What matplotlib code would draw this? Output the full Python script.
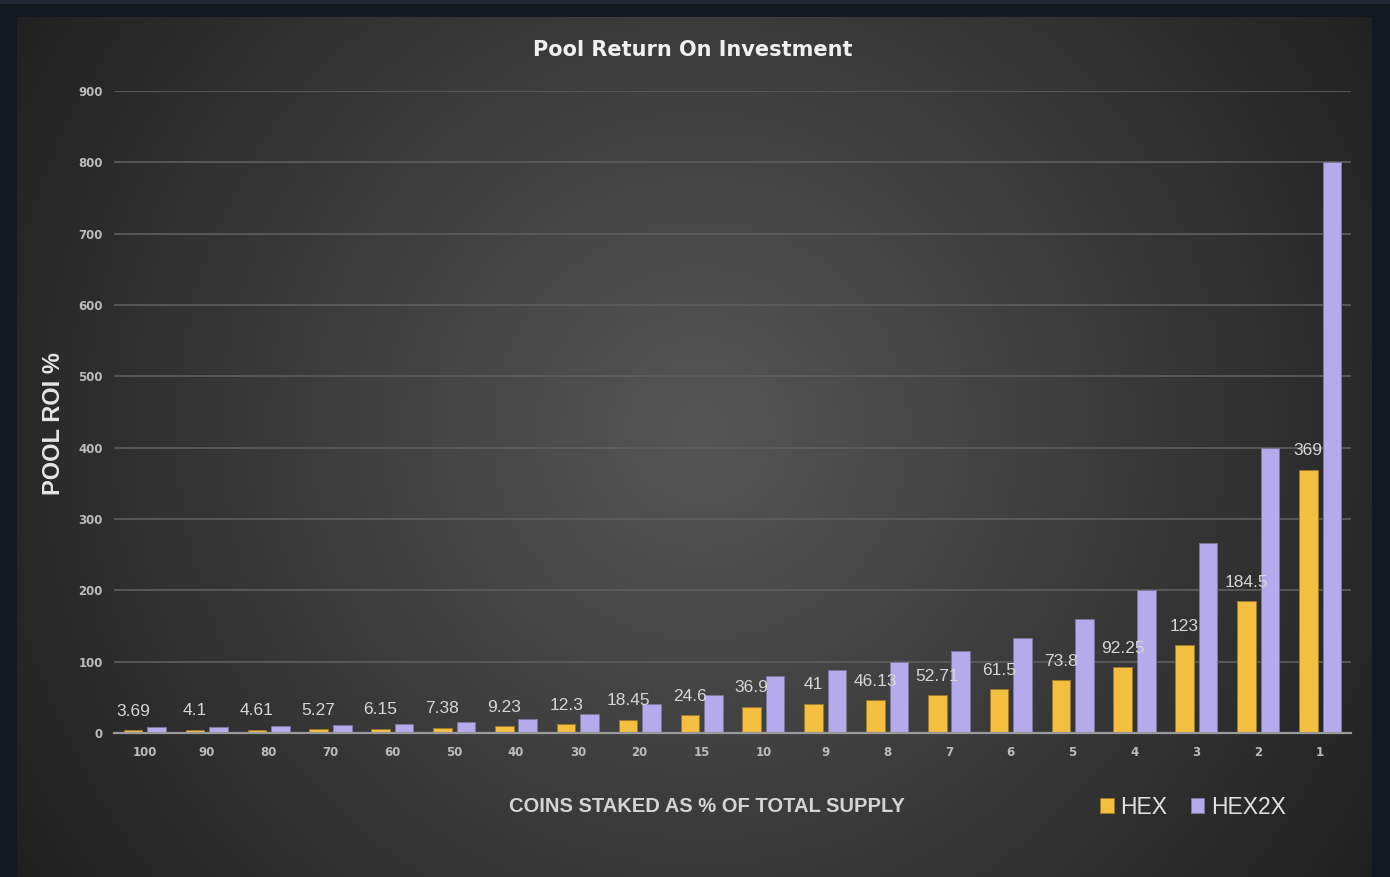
import matplotlib
matplotlib.use('Agg')
import matplotlib.pyplot as plt
import numpy as np
from matplotlib.patches import Rectangle

# data
categories = ['100', '90', '80', '70', '60', '50', '40', '30', '20', '15',
              '10', '9', '8', '7', '6', '5', '4', '3', '2', '1']
hex_roi = [3.69, 4.1, 4.61, 5.27, 6.15, 7.38, 9.23, 12.3, 18.45, 24.6,
           36.9, 41, 46.13, 52.71, 61.5, 73.8, 92.25, 123, 184.5, 369]
hex_labels = ['3.69', '4.1', '4.61', '5.27', '6.15', '7.38', '9.23', '12.3', '18.45', '24.6',
              '36.9', '41', '46.13', '52.71', '61.5', '73.8', '92.25', '123', '184.5', '369']
hex2x_roi = [8, 8.9, 10, 11.4, 13.3, 16, 20, 26.7, 40, 53.3,
             80, 88.9, 100, 114.3, 133.3, 160, 200, 266.7, 400, 800]
y_ticks = [0, 100, 200, 300, 400, 500, 600, 700, 800, 900]

font = 'Liberation Sans'
yellow = '#f4be41'
lavender = '#b5aaec'
W, H = 1390, 877

fig = plt.figure(figsize=(W / 100, H / 100), dpi=100, facecolor='#131821')

# top strip of the frame
fig.patches.append(Rectangle((0, 1 - 4 / H), 1, 4 / H, transform=fig.transFigure,
                             facecolor='#222836', edgecolor='none', zorder=0))

# radial gradient background of the chart area
bx0, bx1, by0, by1 = 17, 1372, 17, 877
bg = fig.add_axes([bx0 / W, 1 - by1 / H, (bx1 - bx0) / W, (by1 - by0) / H], zorder=0)
yy, xx = np.mgrid[by0:by1, bx0:bx1]
d = np.sqrt((xx - 700) ** 2 + (yy - 430) ** 2) / 780
v = np.clip(86 - 52 * d, 28, 90) / 255
bg.imshow(np.dstack([v, v, v]), aspect='auto', extent=(0, 1, 0, 1), origin='upper')
bg.axis('off')

# main plot area
ax = fig.add_axes([114 / W, 1 - 733 / H, (1351 - 114) / W, (733 - 91) / H], zorder=1)
ax.patch.set_visible(False)

x = np.arange(len(categories))
w = 0.3
b1 = ax.bar(x - 0.19, hex_roi, w, color=yellow, edgecolor='#9c7a2c', linewidth=0.7,
            label='HEX', zorder=3)
b2 = ax.bar(x + 0.19, hex2x_roi, w, color=lavender, edgecolor='#7c7699', linewidth=0.7,
            label='HEX2X', zorder=3)

for xi, val, lab in zip(x, hex_roi, hex_labels):
    ax.annotate(lab, (xi - 0.19, val), xytext=(0, 10.5), textcoords='offset points',
                ha='center', va='baseline', fontsize=12.5, family=font,
                color='#d6d6d6', zorder=4)

ax.set_xlim(-0.5, len(categories) - 0.5)
ax.set_ylim(0, 900)
ax.set_yticks(y_ticks)
ax.set_xticks(x)
ax.set_xticklabels(categories)
ax.grid(axis='y', color='#5e5e5e', linewidth=1.2, zorder=1)
ax.set_axisbelow(True)
for sp in ['top', 'right', 'left']:
    ax.spines[sp].set_visible(False)
ax.spines['bottom'].set_color('#9a9a9a')
ax.spines['bottom'].set_linewidth(1.6)
ax.spines['bottom'].set_zorder(5)
ax.tick_params(axis='both', length=0, colors='#bcbcbc', labelsize=8.5)
ax.tick_params(axis='y', pad=8)
ax.tick_params(axis='x', pad=9)
for t in ax.get_xticklabels() + ax.get_yticklabels():
    t.set_fontweight('bold')

# titles and axis labels
fig.text(693 / W, 1 - 50 / H, 'Pool Return On Investment', ha='center', va='center',
         fontsize=15, fontweight='bold', color='#f0f0f0')
fig.text(53 / W, 1 - 424 / H, 'POOL ROI %', rotation=90, ha='center', va='center',
         fontsize=17, fontweight='bold', family=font, color='#e6e6e6')
fig.text(707 / W, 1 - 807 / H, 'COINS STAKED AS % OF TOTAL SUPPLY', ha='center', va='center',
         fontsize=14.5, fontweight='bold', family=font, color='#d4d4d4')

fig.legend([b1, b2], ['HEX', 'HEX2X'], loc='center left', bbox_to_anchor=(1100 / W, 1 - 807 / H),
           ncol=2, frameon=False, borderpad=0, borderaxespad=0, handlelength=0.6,
           handleheight=0.6, handletextpad=0.3, columnspacing=1.0,
           prop={'family': font, 'size': 16.5}, labelcolor='#e0e0e0')

fig.savefig('out.png', dpi=100, facecolor=fig.get_facecolor())
